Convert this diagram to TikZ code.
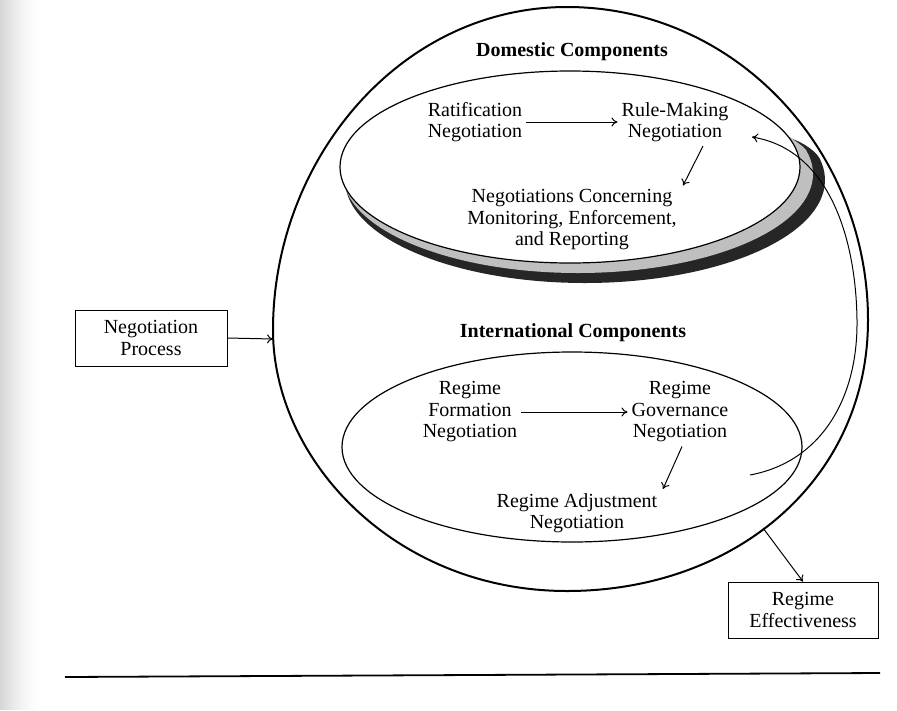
\documentclass[tikz,border=0pt]{standalone}
\usepackage{fontspec}
\setmainfont{Liberation Serif}
\usetikzlibrary{arrows.meta}
\begin{document}
\begin{tikzpicture}[x=1pt,y=-1pt,
  lbl/.style={align=center,font=\fontsize{20}{21.5}\selectfont,inner sep=4pt},
  ttl/.style={align=center,font=\fontsize{20}{21.5}\selectfont\bfseries,inner sep=2pt},
  boxnode/.style={draw,line width=0.8pt,align=center,font=\fontsize{20}{21.5}\selectfont,minimum height=56pt,inner sep=2pt},
  arr/.style={-{To[length=6pt,width=9pt]},line width=1pt},
  ring/.style={line width=1.2pt}]
\useasboundingbox (0,0) rectangle (897,710);
\fill[white] (0,0) rectangle (897,710);
\foreach \i in {0,...,19}{
  \pgfmathsetmacro\g{16*(1-\i/20)^1.6}
  \fill[black!\g] (\i*2,0) rectangle (\i*2+2.3,710);
}

% outer cycle
\draw[line width=2pt] (567,7) .. controls (735,7) and (868,150) .. (868,320)
  .. controls (868,480) and (735,591) .. (567,591)
  .. controls (395,591) and (273,460) .. (273,330)
  .. controls (273,160) and (400,7) .. (567,7) -- cycle;

% domestic disc with thickness
\fill[black!85] (345,180) arc[start angle=180,end angle=-12,x radius=240,y radius=103]
  .. controls (815,150) and (800,140) .. (783,136) -- cycle;
\fill[black!25] (343,174) arc[start angle=180,end angle=-14,x radius=235,y radius=99]
  .. controls (805,148) and (795,140) .. (785,134) -- cycle;
\filldraw[ring,fill=white] (570,167) ellipse [x radius=230, y radius=96];

% international ellipse
\draw[ring] (572,447) ellipse [x radius=230, y radius=95];

% titles
\node[ttl] (dom) at (572,52) {Domestic Components};
\node[ttl] (intl) at (573,333) {International Components};

% domestic nodes
\node[lbl] (rat) at (475,122) {Ratification\\Negotiation};
\node[lbl] (rule) at (675,122) {Rule-Making\\Negotiation};
\node[lbl] (mon) at (572,220) {Negotiations Concerning\\Monitoring, Enforcement,\\and Reporting};

% international nodes
\node[lbl] (form) at (470,412) {Regime\\Formation\\Negotiation};
\node[lbl] (gov) at (680,412) {Regime\\Governance\\Negotiation};
\node[lbl] (adj) at (577,513) {Regime Adjustment\\Negotiation};

% boxes
\node[boxnode,minimum width=152pt] (proc) at (151,338) {Negotiation\\Process};
\node[boxnode,minimum width=150pt] (eff) at (803,610) {Regime\\Effectiveness};

\coordinate (cleft) at (273,339);
\coordinate (cexit) at (763,528);

% connectors
\draw[arr] (rat.east) -- (rule.west);
\draw[arr] ([xshift=28pt]rule.south) -- ([xshift=111pt]mon.north);
\draw[arr] (form.east) -- (gov.west);
\draw[arr] ([xshift=2pt]gov.south) -- ([xshift=86pt]adj.north);
\draw[arr] (proc.east) -- (cleft);
\draw[arr] (cexit) -- (eff.north);

% feedback spiral
\draw[arr] (750,475) .. controls (820,462) and (858,400) .. (857,320)
  .. controls (856,240) and (830,150) .. (752,137);

% page rule
\draw[line width=1.8pt] (65,677) -- (880,673);
\end{tikzpicture}
\end{document}
